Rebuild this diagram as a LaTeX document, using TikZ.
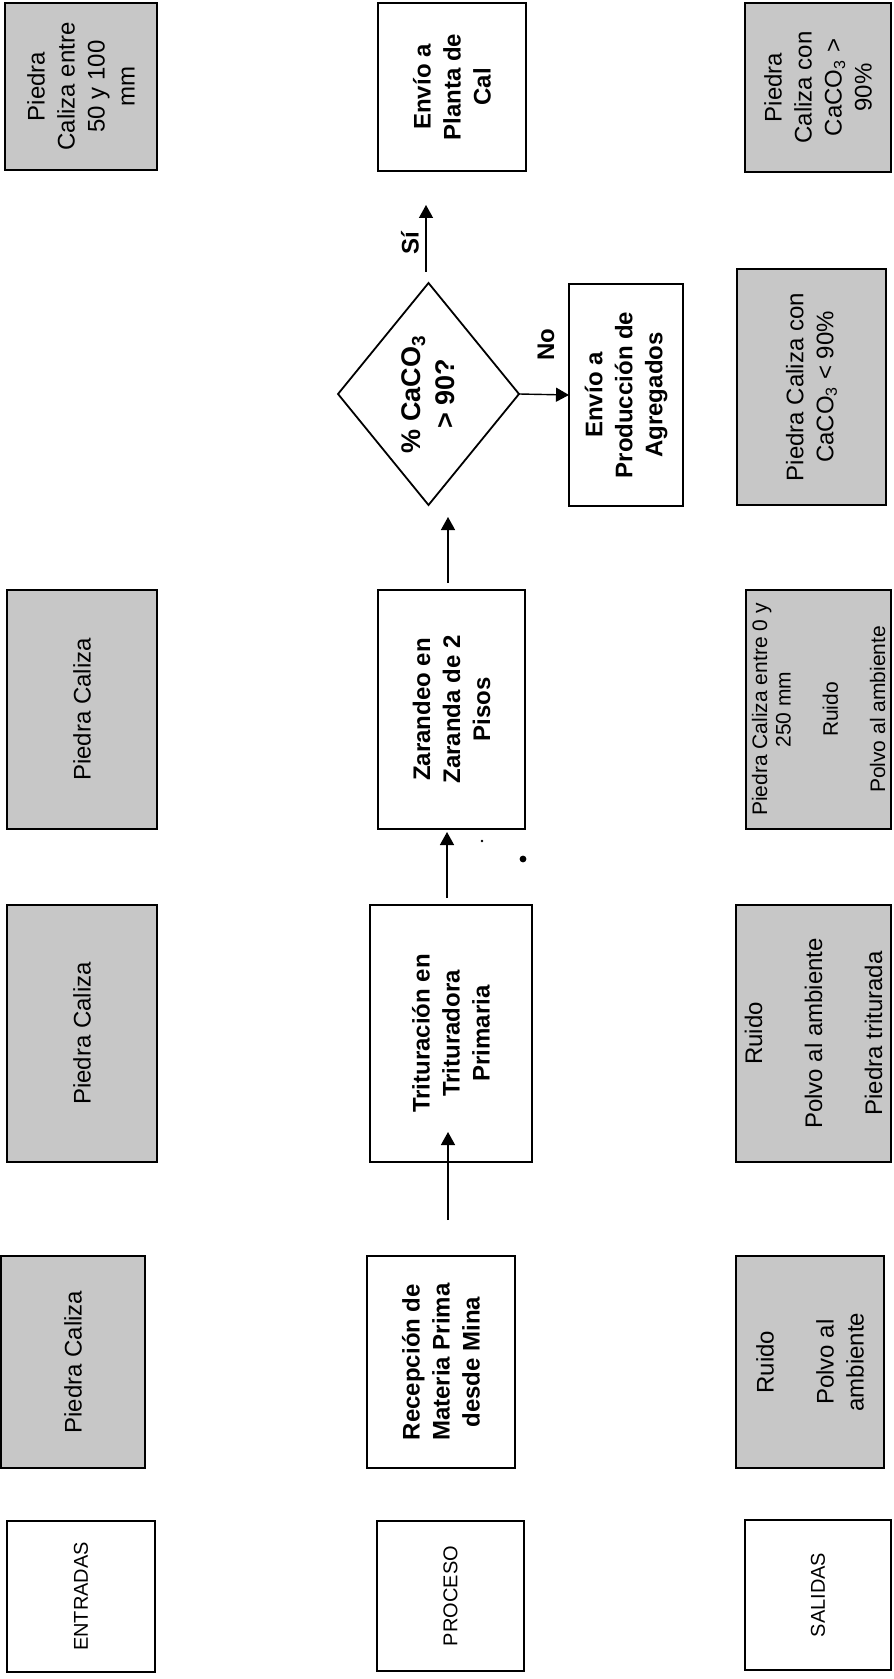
\documentclass[tikz,border=0pt]{standalone}
\usepackage{fontspec}
\setmainfont{Liberation Sans}
\usetikzlibrary{shapes.geometric,arrows.meta}

\begin{document}
\begin{tikzpicture}[x=0.5pt,y=-0.5pt,
  every node/.style={inner sep=0pt, outer sep=0pt},
  frame/.style={draw=black, line width=0.9pt, rotate=90, align=center},
  graybox/.style={frame, fill=black!22, font=\fontsize{12}{15}\selectfont},
  smallgray/.style={graybox, font=\fontsize{10.5}{11.8}\selectfont},
  procbox/.style={frame, fill=white, font=\bfseries\fontsize{12}{15}\selectfont},
  tagbox/.style={frame, fill=white, font=\fontsize{10}{12}\selectfont},
  decision/.style={frame, shape=diamond, fill=white, font=\bfseries\fontsize{13.5}{17}\selectfont},
  dims/.style 2 args={minimum width=#2*0.5pt, minimum height=#1*0.5pt},
  flow/.style={line width=0.7pt, -{Triangle[length=6.5pt,width=7pt]}},
  answer/.style={font=\bfseries\fontsize{12}{14}\selectfont, rotate=90}
]
\useasboundingbox (0,0) rectangle (893,1679);

% column headings
\node[tagbox, dims={148}{151}] (lblIn)   at (81,1596.5) {ENTRADAS};
\node[tagbox, dims={147}{150}] (lblProc) at (450.5,1596) {PROCESO};
\node[tagbox, dims={146}{150}] (lblOut)  at (818,1595) {SALIDAS};

% reception stage
\node[graybox, dims={144}{212}] (in1)  at (73,1362)  {Piedra Caliza};
\node[procbox, dims={148}{212}] (rec)  at (441,1362) {Recepción de\\Materia Prima\\desde Mina};
\node[graybox, dims={148}{212}] (out1) at (810,1362) {Ruido\\ \\Polvo al\\ambiente};

% primary crushing
\node[graybox, dims={150}{257}] (in2)  at (82,1033.5)    {Piedra Caliza};
\node[procbox, dims={162}{257}] (tri)  at (451,1033.5)   {Trituración en\\Trituradora\\Primaria};
\node[graybox, dims={155}{257}] (out2) at (813.5,1033.5) {Ruido\\ \\Polvo al ambiente\\ \\Piedra triturada};

% screening
\node[graybox, dims={150}{239}] (in3)  at (82,709.5)    {Piedra Caliza};
\node[procbox, dims={147}{239}] (zar)  at (451.5,709.5) {Zarandeo en\\Zaranda de 2\\Pisos};
\node[smallgray, dims={145}{239}] (out3) at (818.5,709.5) {Piedra Caliza entre 0 y\\250 mm\\ \\Ruido\\ \\Polvo al ambiente};

% quality decision
\node[decision, dims={181}{222}] (dec) at (428.5,394) {\% CaCO\textsubscript{3}\\> 90?};
\node[procbox, dims={114}{222}] (agr)  at (626,395)   {Envío a\\Producción de\\Agregados};
\node[graybox, dims={149}{236}] (out4) at (811.5,387) {Piedra Caliza con\\CaCO\textsubscript{3} < 90\%};

% lime plant dispatch
\node[graybox, dims={152}{167}] (inTop)  at (81,86.5)  {Piedra\\Caliza entre\\50 y 100\\mm};
\node[procbox, dims={148}{168}] (envCal) at (452,87)   {Envío a\\Planta de\\Cal};
\node[graybox, dims={146}{169}] (outTop) at (818,87.5) {Piedra\\Caliza con\\CaCO\textsubscript{3} >\\90\%};

% flow arrows
\coordinate (recOut) at (448,1220);
\coordinate (triIn)  at (448,1132);
\coordinate (triOut) at (447,898);
\coordinate (zarIn)  at (447,832);
\coordinate (zarOut) at (448,583);
\coordinate (decIn)  at (448,517);
\coordinate (yesOut) at (426,272);
\coordinate (yesEnd) at (426,205);

\draw[flow] (recOut) -- (triIn);
\draw[flow] (triOut) -- (zarIn);
\draw[flow] (zarOut) -- (decIn);
\draw[flow] (yesOut) -- (yesEnd);
\draw[flow] (dec.south) -- (agr.north);

\node[answer] (yes) at (410,243) {Sí};
\node[answer] (no)  at (546,345) {No};

% specks
\fill (482,841) circle[radius=0.7pt];
\fill (523,859) circle[radius=1.7pt];
\end{tikzpicture}
\end{document}
